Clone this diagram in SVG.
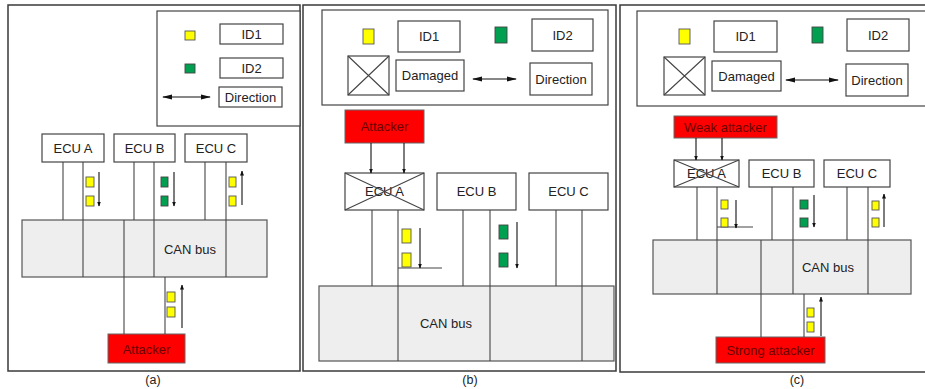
<svg xmlns="http://www.w3.org/2000/svg" width="925" height="389" viewBox="0 0 925 389">
<style>
.frame{fill:none;stroke:#3a3a3a;stroke-width:1.5}
.legend{fill:#fff;stroke:#444;stroke-width:1.2}
.box{fill:#fff;stroke:#444;stroke-width:1.2}
.bus{fill:#eeeeee;stroke:#555;stroke-width:1.2}
.red{fill:#ff0000;stroke:#666;stroke-width:1}
.ln{stroke:#444;stroke-width:1.1;fill:none}
.arr{stroke:#111;stroke-width:1.1;fill:none;marker-end:url(#ah)}
.darr{stroke:#111;stroke-width:1.2;fill:none;marker-start:url(#bhs);marker-end:url(#bh)}
.y{fill:#ffff00;stroke:#555;stroke-width:0.9}
.g{fill:#00a050;stroke:#444;stroke-width:0.9}
text{font-family:"Liberation Sans",Arial,sans-serif;font-size:13px;fill:#222;text-anchor:middle}
.rt{fill:#6a0000}
.cap{font-size:12.5px}
</style>
<defs>
<marker id="ah" markerWidth="5" markerHeight="5" refX="4.5" refY="2.5" orient="auto" markerUnits="userSpaceOnUse"><path d="M0,0.5 L5,2.5 L0,4.5 z" fill="#111"/></marker>
<marker id="bh" markerWidth="10" markerHeight="6" refX="9" refY="3" orient="auto" markerUnits="userSpaceOnUse"><path d="M0,0.5 L10,3 L0,5.5 z" fill="#111"/></marker>
<marker id="bhs" markerWidth="10" markerHeight="6" refX="1" refY="3" orient="auto" markerUnits="userSpaceOnUse"><path d="M10,0.5 L0,3 L10,5.5 z" fill="#111"/></marker>
</defs>

<!-- ================= Panel (a) ================= -->
<g id="panel-a">
<rect class="frame" x="8" y="5" width="292" height="366"/>
<g id="a-legend">
<rect class="legend" x="157" y="11" width="143" height="115"/>
<rect class="y" x="185" y="31" width="10" height="9"/>
<rect class="g" x="185" y="64" width="10" height="9"/>
<rect class="box" x="220" y="24" width="63" height="20"/><text x="251.5" y="38.5">ID1</text>
<rect class="box" x="220" y="58" width="63" height="20"/><text x="251.5" y="72.5">ID2</text>
<line class="darr" x1="163" y1="97" x2="210" y2="97"/>
<rect class="box" x="219" y="87" width="63" height="20"/><text x="250.5" y="101.5">Direction</text>
</g>
<g id="a-ecu-a"><rect class="box" x="42" y="134" width="62" height="28"/><text x="73" y="152.5">ECU A</text></g>
<g id="a-ecu-b"><rect class="box" x="114" y="134" width="61" height="28"/><text x="144.5" y="152.5">ECU B</text></g>
<g id="a-ecu-c"><rect class="box" x="185" y="134" width="62" height="28"/><text x="216" y="152.5">ECU C</text></g>
<g id="a-bus"><rect class="bus" x="22" y="220" width="245" height="57"/><text x="190" y="253.5">CAN bus</text></g>
<g id="a-attacker"><rect class="red" x="108" y="334" width="77" height="29"/><text class="rt" x="146.5" y="353.5">Attacker</text></g>
<g id="a-connectors">
<line class="ln" x1="63" y1="162" x2="63" y2="220"/>
<line class="ln" x1="83" y1="162" x2="83" y2="277"/>
<line class="ln" x1="134" y1="162" x2="134" y2="220"/>
<line class="ln" x1="154" y1="162" x2="154" y2="277"/>
<line class="ln" x1="205" y1="162" x2="205" y2="220"/>
<line class="ln" x1="226" y1="162" x2="226" y2="277"/>
<line class="ln" x1="124" y1="220" x2="124" y2="334"/>
<line class="ln" x1="165" y1="277" x2="165" y2="334"/>
<line class="arr" x1="99" y1="172" x2="99" y2="206"/>
<line class="arr" x1="174" y1="172" x2="174" y2="206"/>
<line class="arr" x1="242" y1="205" x2="242" y2="171"/>
<line class="arr" x1="182" y1="328" x2="182" y2="285"/>
</g>
<g id="a-messages">
<rect class="y" x="86" y="177" width="8" height="10"/><rect class="y" x="86" y="196" width="8" height="10"/>
<rect class="g" x="161" y="177" width="7" height="10"/><rect class="g" x="161" y="196" width="7" height="10"/>
<rect class="y" x="229" y="177" width="7" height="10"/><rect class="y" x="229" y="196" width="7" height="10"/>
<rect class="y" x="167" y="292" width="8" height="10"/><rect class="y" x="167" y="307" width="8" height="10"/>
</g>
<text class="cap" x="153" y="384">(a)</text>
</g>

<!-- ================= Panel (b) ================= -->
<g id="panel-b">
<rect class="frame" x="303" y="5" width="313" height="366"/>
<g id="b-legend">
<rect class="legend" x="322" y="10" width="286" height="95"/>
<rect class="y" x="363" y="29" width="11" height="15"/>
<rect class="box" x="398" y="21" width="62" height="31"/><text x="429" y="41">ID1</text>
<rect class="g" x="495" y="27" width="12" height="16"/>
<rect class="box" x="532" y="19" width="61" height="32"/><text x="562.5" y="39.5">ID2</text>
<rect class="box" x="348" y="56" width="41" height="39"/>
<path class="ln" d="M348,56 L389,95 M389,56 L348,95"/>
<rect class="box" x="396" y="60" width="68" height="31"/><text x="430" y="80">Damaged</text>
<line class="darr" x1="473" y1="79" x2="516" y2="79"/>
<rect class="box" x="530" y="63" width="62" height="32"/><text x="561" y="83.5">Direction</text>
</g>
<g id="b-attacker"><rect class="red" x="345" y="110" width="79" height="33"/><text class="rt" x="384.5" y="131">Attacker</text></g>
<g id="b-ecu-a"><rect class="box" x="345" y="173" width="79" height="37"/><text x="384.5" y="196">ECU A</text><path class="ln" d="M345,173 L424,210 M424,173 L345,210"/></g>
<g id="b-ecu-b"><rect class="box" x="437" y="173" width="79" height="37"/><text x="476.5" y="196">ECU B</text></g>
<g id="b-ecu-c"><rect class="box" x="529" y="173" width="79" height="37"/><text x="568.5" y="196">ECU C</text></g>
<g id="b-bus"><rect class="bus" x="319" y="286" width="295" height="75"/><text x="446" y="327.5">CAN bus</text></g>
<g id="b-connectors">
<line class="arr" x1="371" y1="143" x2="371" y2="173"/>
<line class="arr" x1="404" y1="143" x2="404" y2="173"/>
<line class="ln" x1="372" y1="210" x2="372" y2="286"/>
<line class="ln" x1="398" y1="210" x2="398" y2="361"/>
<line class="ln" x1="463" y1="210" x2="463" y2="286"/>
<line class="ln" x1="490" y1="210" x2="490" y2="361"/>
<line class="ln" x1="556" y1="210" x2="556" y2="286"/>
<line class="ln" x1="582" y1="210" x2="582" y2="361"/>
<line class="ln" x1="398" y1="268" x2="442" y2="268"/>
<line class="arr" x1="420" y1="228" x2="420" y2="268"/>
<line class="arr" x1="517" y1="222" x2="517" y2="268"/>
</g>
<g id="b-messages">
<rect class="y" x="402" y="229" width="9" height="14"/><rect class="y" x="402" y="253" width="9" height="14"/>
<rect class="g" x="499" y="225" width="9" height="14"/><rect class="g" x="499" y="253" width="9" height="14"/>
</g>
<text class="cap" x="470" y="384">(b)</text>
</g>

<!-- ================= Panel (c) ================= -->
<g id="panel-c">
<rect class="frame" x="620" y="5" width="310" height="367"/>
<g id="c-legend">
<rect class="legend" x="637" y="11" width="290" height="95"/>
<rect class="y" x="679" y="29" width="11" height="15"/>
<rect class="box" x="714" y="21" width="63" height="31"/><text x="745.5" y="41">ID1</text>
<rect class="g" x="812" y="27" width="11" height="16"/>
<rect class="box" x="847" y="19" width="62" height="32"/><text x="878" y="39.5">ID2</text>
<rect class="box" x="664" y="57" width="41" height="38"/>
<path class="ln" d="M664,57 L705,95 M705,57 L664,95"/>
<rect class="box" x="712" y="61" width="69" height="30"/><text x="746.5" y="80.5">Damaged</text>
<line class="darr" x1="786" y1="80" x2="838" y2="80"/>
<rect class="box" x="846" y="64" width="62" height="32"/><text x="877" y="84.5">Direction</text>
</g>
<g id="c-weak-attacker"><rect class="red" x="674" y="116" width="103" height="22"/><text class="rt" x="725.5" y="131.5">Weak attacker</text></g>
<g id="c-ecu-a"><rect class="box" x="674" y="160" width="65" height="27"/><text x="706.5" y="178">ECU A</text><path class="ln" d="M674,160 L739,187 M739,160 L674,187"/></g>
<g id="c-ecu-b"><rect class="box" x="749" y="160" width="65" height="27"/><text x="781.5" y="178">ECU B</text></g>
<g id="c-ecu-c"><rect class="box" x="824" y="160" width="66" height="27"/><text x="857" y="178">ECU C</text></g>
<g id="c-bus"><rect class="bus" x="653" y="240" width="258" height="54"/><text x="828" y="271.5">CAN bus</text></g>
<g id="c-strong-attacker"><rect class="red" x="716" y="337" width="109" height="26"/><text class="rt" x="770.5" y="354.5">Strong attacker</text></g>
<g id="c-connectors">
<line class="arr" x1="696" y1="138" x2="696" y2="160"/>
<line class="arr" x1="722" y1="138" x2="722" y2="160"/>
<line class="ln" x1="697" y1="187" x2="697" y2="240"/>
<line class="ln" x1="717" y1="187" x2="717" y2="294"/>
<line class="ln" x1="772" y1="187" x2="772" y2="240"/>
<line class="ln" x1="793" y1="187" x2="793" y2="294"/>
<line class="ln" x1="847" y1="187" x2="847" y2="240"/>
<line class="ln" x1="868" y1="187" x2="868" y2="294"/>
<line class="ln" x1="761" y1="240" x2="761" y2="337"/>
<line class="ln" x1="804" y1="294" x2="804" y2="337"/>
<line class="ln" x1="717" y1="227" x2="753" y2="227"/>
<line class="arr" x1="736" y1="200" x2="736" y2="228"/>
<line class="arr" x1="814" y1="195" x2="814" y2="227"/>
<line class="arr" x1="884" y1="227" x2="884" y2="194"/>
<line class="arr" x1="821" y1="336" x2="821" y2="297"/>
</g>
<g id="c-messages">
<rect class="y" x="721" y="200" width="7" height="9"/><rect class="y" x="721" y="218" width="7" height="9"/>
<rect class="g" x="800" y="200" width="8" height="9"/><rect class="g" x="800" y="218" width="8" height="9"/>
<rect class="y" x="872" y="201" width="7" height="9"/><rect class="y" x="872" y="218" width="7" height="9"/>
<rect class="y" x="807" y="308" width="7" height="9"/><rect class="y" x="807" y="322" width="7" height="10"/>
</g>
<text class="cap" x="797" y="384">(c)</text>
</g>
</svg>
